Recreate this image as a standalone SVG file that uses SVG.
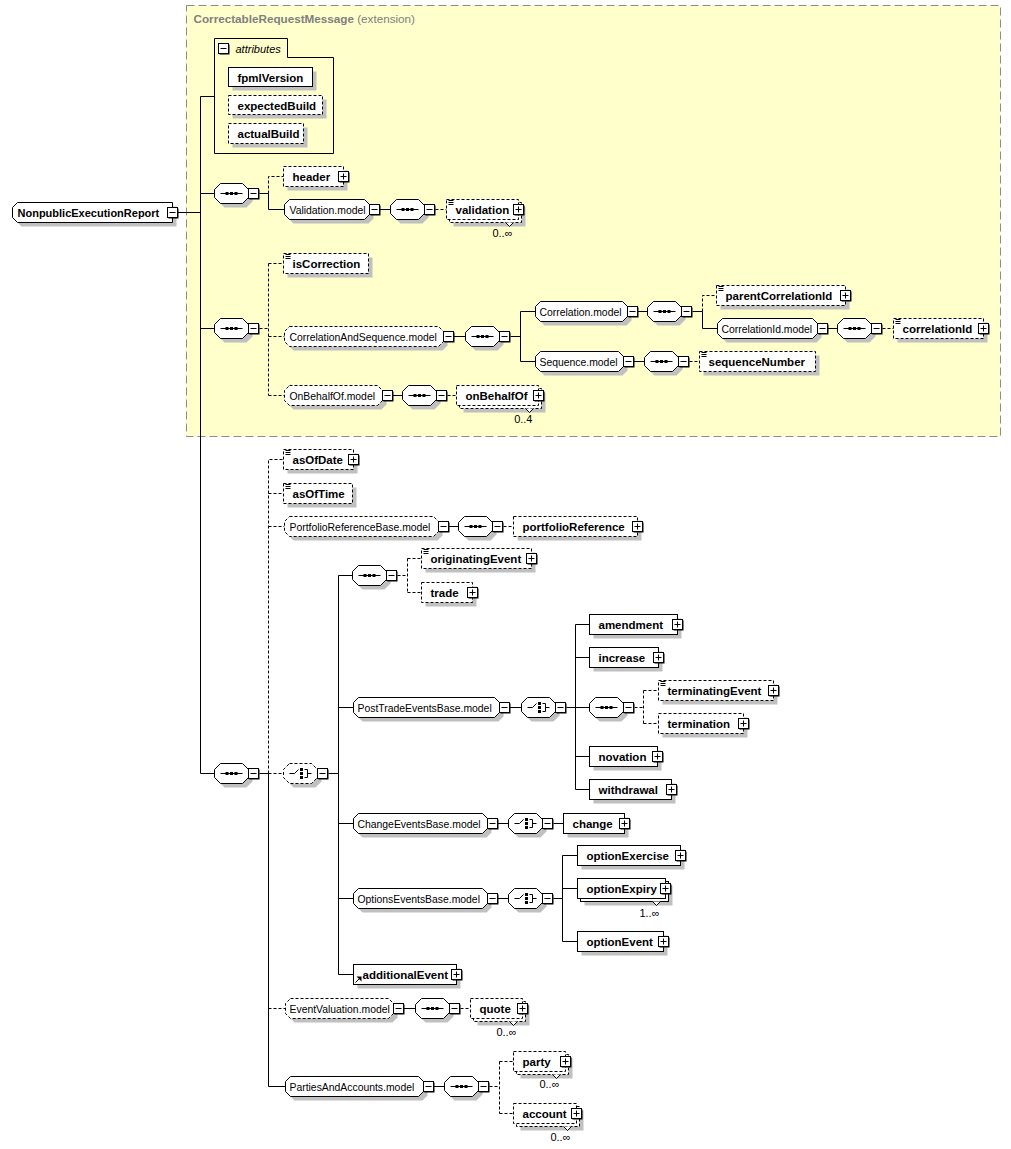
<svg xmlns="http://www.w3.org/2000/svg" xmlns:xlink="http://www.w3.org/1999/xlink" width="1011" height="1149" viewBox="0 0 1011 1149">
<style>
.sh{fill:#c0c0c0;stroke:none}
.b{fill:#fff;stroke:#000;stroke-width:1}
.d{stroke-dasharray:3,2}
.l{fill:none;stroke:#000;stroke-width:1}
.t{font-family:"Liberation Sans",Arial,sans-serif;font-weight:bold;font-size:11.5px;fill:#000}
.r{font-size:11px}
.m{font-family:"Liberation Sans",Arial,sans-serif;font-size:10.4px;fill:#000}
.c{font-family:"Liberation Sans",Arial,sans-serif;font-size:11px;fill:#000}
.g{font-family:"Liberation Sans",Arial,sans-serif;font-size:11.7px;fill:#808080}
</style>
<defs>
<g id="mi"><rect x="1" y="1" width="10" height="10" fill="#000"/><rect x="0" y="0" width="10" height="10" class="b"/><path d="M2 5H8" class="l"/></g>
<g id="pl"><rect x="1" y="1" width="10" height="10" fill="#000"/><rect x="0" y="0" width="10" height="10" class="b"/><path d="M2 5H8M5 2V8" class="l"/></g>
<path id="ic" d="M2 1H7M2 3H7M2 5H7" class="l"/>
<g id="sq">
<path class="sh" d="M10 -6H32L38 0V8L32 14H10L4 8V0Z"/>
<path class="b" d="M6 -10H28L34 -4V4L28 10H6L0 4V-4Z"/>
<path class="l" d="M6 0H28"/>
<path d="M11 -1.5h3v3h-3zM15.5 -1.5h3v3h-3zM20 -1.5h3v3h-3z" fill="#000"/>
<use xlink:href="#mi" href="#mi" x="34" y="-5"/>
</g>
<g id="ch">
<path class="sh" d="M10 -6H32L38 0V8L32 14H10L4 8V0Z"/>
<path class="b" d="M6 -10H28L34 -4V4L28 10H6L0 4V-4Z"/>
<path class="l" d="M6 0H11L15 -4M21 -4H24V4H21M24 0H28"/>
<path d="M16.5 -5.5h3v3h-3zM16.5 -1.5h3v3h-3zM16.5 2.5h3v3h-3z" fill="#000"/>
<use xlink:href="#mi" href="#mi" x="34" y="-5"/>
</g>
<g id="cho">
<path class="sh" d="M10 -6H32L38 0V8L32 14H10L4 8V0Z"/>
<path class="b d" d="M6 -10H28L34 -4V4L28 10H6L0 4V-4Z"/>
<path class="l" d="M6 0H11L15 -4M21 -4H24V4H21M24 0H28"/>
<path d="M16.5 -5.5h3v3h-3zM16.5 -1.5h3v3h-3zM16.5 2.5h3v3h-3z" fill="#000"/>
<use xlink:href="#mi" href="#mi" x="34" y="-5"/>
</g>
</defs>
<rect x="0" y="0" width="1011" height="1149" fill="#fff"/>
<g transform="translate(0.5,0.5)">

<g id="ext">
<rect x="186" y="5" width="814" height="431" fill="#ffffcc" stroke="#8c8c8c" stroke-dasharray="8,4"/>
<text x="193" y="22" class="g"><tspan font-weight="bold">CorrectableRequestMessage</tspan> (extension)</text>
</g>

<g id="attributes">
<path class="l" d="M214 38H287V57H333V153H214Z"/>
<use xlink:href="#mi" href="#mi" x="218" y="43"/>
<text x="235" y="52" class="c" font-style="italic">attributes</text>
<g id="fpmlVersion"><rect class="sh" x="232" y="71" width="84" height="19"/><rect class="b" x="228" y="67" width="84" height="19"/><text class="t" x="237" y="81">fpmlVersion</text></g>
<g id="expectedBuild"><rect class="sh" x="232" y="99" width="94" height="19"/><rect class="b d" x="228" y="95" width="94" height="19"/><text class="t" x="237" y="109">expectedBuild</text></g>
<g id="actualBuild"><rect class="sh" x="232" y="127" width="75" height="20"/><rect class="b d" x="228" y="123" width="75" height="20"/><text class="t" x="237" y="137">actualBuild</text></g>
</g>

<g id="connectors">
<path class="l" d="M177 212H200M200 96V773M200 96H214M200 193H214M200 328H214M200 773H214"/>
<path class="l" d="M259 193H268V209H284M379 209H390"/>
<path class="l d" d="M268 193V176H283M435 209H446"/>
<path class="l d" d="M259 328H268M268 263V395M268 263H283M268 336H284M268 395H284M447 395H456"/>
<path class="l" d="M453 336H465M510 336H520M520 311V361M520 311H535M520 361H535M392 395H402"/>
<path class="l" d="M637 311H647M692 311H702V328H717M827 328H837M633 361H644"/>
<path class="l d" d="M702 311V295H716M882 328H893M689 361H699"/>
<path class="l" d="M259 773H268M268 773V1086H285"/>
<path class="l d" d="M268 773H283M268 773V459H283M268 493H283M268 526H284M268 1008H285"/>
<path class="l" d="M448 526H458"/>
<path class="l d" d="M503 526H513"/>
<path class="l" d="M328 773H338M338 575V974M338 575H352M338 707H353M338 823H353M338 898H353M338 974H353"/>
<path class="l d" d="M397 575H407M407 558V592M407 558H421M407 592H421"/>
<path class="l" d="M509 707H521M566 707H575M575 624V789M575 624H589M575 657H589M575 707H589M575 756H589M575 789H589"/>
<path class="l d" d="M634 707H643M643 690V723M643 690H658M643 723H658"/>
<path class="l" d="M497 823H508M553 823H563M497 898H508M553 898H562M562 855V941M562 855H577M562 888H577M562 941H577"/>
<path class="l" d="M403 1008H415M433 1086H444"/>
<path class="l d" d="M460 1008H470M489 1086H499M499 1061V1113M499 1061H513M499 1113H513"/>
</g>

<g id="NonpublicExecutionReport">
<path class="sh" transform="translate(4,4)" d="M17 202H172V222H17L12 217V207Z"/>
<path class="b" d="M17 202H172V222H17L12 217V207Z"/>
<text class="t r" x="17" y="216">NonpublicExecutionReport</text>
<use xlink:href="#mi" href="#mi" x="167" y="207"/>
</g>

<g id="seq1"><use xlink:href="#sq" href="#sq" x="214" y="193"/></g>
<g id="seq2"><use xlink:href="#sq" href="#sq" x="390" y="209"/></g>
<g id="seq3"><use xlink:href="#sq" href="#sq" x="214" y="328"/></g>
<g id="seq4"><use xlink:href="#sq" href="#sq" x="465" y="336"/></g>
<g id="seq5"><use xlink:href="#sq" href="#sq" x="402" y="395"/></g>
<g id="seq6"><use xlink:href="#sq" href="#sq" x="647" y="311"/></g>
<g id="seq7"><use xlink:href="#sq" href="#sq" x="837" y="328"/></g>
<g id="seq8"><use xlink:href="#sq" href="#sq" x="644" y="361"/></g>
<g id="seq9"><use xlink:href="#sq" href="#sq" x="214" y="773"/></g>
<g id="seq10"><use xlink:href="#sq" href="#sq" x="458" y="526"/></g>
<g id="seq11"><use xlink:href="#sq" href="#sq" x="352" y="575"/></g>
<g id="seq12"><use xlink:href="#sq" href="#sq" x="589" y="707"/></g>
<g id="seq13"><use xlink:href="#sq" href="#sq" x="415" y="1008"/></g>
<g id="seq14"><use xlink:href="#sq" href="#sq" x="444" y="1086"/></g>
<g id="choice1"><use xlink:href="#cho" href="#cho" x="283" y="773"/></g>
<g id="choice2"><use xlink:href="#ch" href="#ch" x="521" y="707"/></g>
<g id="choice3"><use xlink:href="#ch" href="#ch" x="508" y="823"/></g>
<g id="choice4"><use xlink:href="#ch" href="#ch" x="508" y="898"/></g>

<g id="Validation.model"><path class="sh" transform="translate(4,4)" d="M289 199H364L369 204V214L364 219H289L284 214V204Z"/><path class="b" d="M289 199H364L369 204V214L364 219H289L284 214V204Z"/><text class="m" x="289" y="213">Validation.model</text><use xlink:href="#mi" href="#mi" x="369" y="204"/></g>
<g id="CorrelationAndSequence.model"><path class="sh" transform="translate(4,4)" d="M289 326H438L443 331V341L438 346H289L284 341V331Z"/><path class="b d" d="M289 326H438L443 331V341L438 346H289L284 341V331Z"/><text class="m" x="289" y="340">CorrelationAndSequence.model</text><use xlink:href="#mi" href="#mi" x="443" y="331"/></g>
<g id="OnBehalfOf.model"><path class="sh" transform="translate(4,4)" d="M289 385H377L382 390V400L377 405H289L284 400V390Z"/><path class="b d" d="M289 385H377L382 390V400L377 405H289L284 400V390Z"/><text class="m" x="289" y="399">OnBehalfOf.model</text><use xlink:href="#mi" href="#mi" x="382" y="390"/></g>
<g id="Correlation.model"><path class="sh" transform="translate(4,4)" d="M540 301H622L627 306V316L622 321H540L535 316V306Z"/><path class="b" d="M540 301H622L627 306V316L622 321H540L535 316V306Z"/><text class="m" x="539" y="315">Correlation.model</text><use xlink:href="#mi" href="#mi" x="627" y="306"/></g>
<g id="CorrelationId.model"><path class="sh" transform="translate(4,4)" d="M722 318H812L817 323V333L812 338H722L717 333V323Z"/><path class="b" d="M722 318H812L817 323V333L812 338H722L717 333V323Z"/><text class="m" x="721" y="332">CorrelationId.model</text><use xlink:href="#mi" href="#mi" x="817" y="323"/></g>
<g id="Sequence.model"><path class="sh" transform="translate(4,4)" d="M540 351H618L623 356V366L618 371H540L535 366V356Z"/><path class="b" d="M540 351H618L623 356V366L618 371H540L535 366V356Z"/><text class="m" x="539" y="365">Sequence.model</text><use xlink:href="#mi" href="#mi" x="623" y="356"/></g>
<g id="PortfolioReferenceBase.model"><path class="sh" transform="translate(4,4)" d="M289 516H433L438 521V531L433 536H289L284 531V521Z"/><path class="b d" d="M289 516H433L438 521V531L433 536H289L284 531V521Z"/><text class="m" x="289" y="530">PortfolioReferenceBase.model</text><use xlink:href="#mi" href="#mi" x="438" y="521"/></g>
<g id="PostTradeEventsBase.model"><path class="sh" transform="translate(4,4)" d="M358 697H494L499 702V712L494 717H358L353 712V702Z"/><path class="b" d="M358 697H494L499 702V712L494 717H358L353 712V702Z"/><text class="m" x="357" y="711">PostTradeEventsBase.model</text><use xlink:href="#mi" href="#mi" x="499" y="702"/></g>
<g id="ChangeEventsBase.model"><path class="sh" transform="translate(4,4)" d="M358 813H482L487 818V828L482 833H358L353 828V818Z"/><path class="b" d="M358 813H482L487 818V828L482 833H358L353 828V818Z"/><text class="m" x="357" y="827">ChangeEventsBase.model</text><use xlink:href="#mi" href="#mi" x="487" y="818"/></g>
<g id="OptionsEventsBase.model"><path class="sh" transform="translate(4,4)" d="M358 888H482L487 893V903L482 908H358L353 903V893Z"/><path class="b" d="M358 888H482L487 893V903L482 908H358L353 903V893Z"/><text class="m" x="357" y="902">OptionsEventsBase.model</text><use xlink:href="#mi" href="#mi" x="487" y="893"/></g>
<g id="EventValuation.model"><path class="sh" transform="translate(4,4)" d="M290 998H388L393 1003V1013L388 1018H290L285 1013V1003Z"/><path class="b d" d="M290 998H388L393 1003V1013L388 1018H290L285 1013V1003Z"/><text class="m" x="289" y="1012">EventValuation.model</text><use xlink:href="#mi" href="#mi" x="393" y="1003"/></g>
<g id="PartiesAndAccounts.model"><path class="sh" transform="translate(4,4)" d="M290 1076H418L423 1081V1091L418 1096H290L285 1091V1081Z"/><path class="b" d="M290 1076H418L423 1081V1091L418 1096H290L285 1091V1081Z"/><text class="m" x="289" y="1090">PartiesAndAccounts.model</text><use xlink:href="#mi" href="#mi" x="423" y="1081"/></g>

<g id="header"><rect class="sh" x="287" y="170" width="60" height="20"/><rect class="b d" x="283" y="166" width="60" height="20"/><text class="t" x="292" y="180">header</text><use xlink:href="#pl" href="#pl" x="338" y="171"/></g>
<g id="validation"><rect class="sh" x="453" y="206" width="72" height="20"/><rect class="b d" x="449" y="202" width="72" height="20"/><rect class="b d" x="446" y="199" width="72" height="20"/><use xlink:href="#ic" href="#ic" x="446" y="199"/><text class="t" x="455" y="213">validation</text><use xlink:href="#pl" href="#pl" x="513" y="204"/><path class="b" d="M505 222L509 226L513 222"/><text class="c" x="512" y="236" text-anchor="end">0..∞</text></g>
<g id="isCorrection"><rect class="sh" x="287" y="257" width="85" height="20"/><rect class="b d" x="283" y="253" width="85" height="20"/><use xlink:href="#ic" href="#ic" x="283" y="253"/><text class="t" x="292" y="267">isCorrection</text></g>
<g id="parentCorrelationId"><rect class="sh" x="720" y="289" width="129" height="20"/><rect class="b d" x="716" y="285" width="129" height="20"/><use xlink:href="#ic" href="#ic" x="716" y="285"/><text class="t" x="725" y="299">parentCorrelationId</text><use xlink:href="#pl" href="#pl" x="840" y="290"/></g>
<g id="correlationId"><rect class="sh" x="897" y="322" width="90" height="20"/><rect class="b d" x="893" y="318" width="90" height="20"/><use xlink:href="#ic" href="#ic" x="893" y="318"/><text class="t" x="902" y="332">correlationId</text><use xlink:href="#pl" href="#pl" x="978" y="323"/></g>
<g id="sequenceNumber"><rect class="sh" x="703" y="355" width="116" height="20"/><rect class="b d" x="699" y="351" width="116" height="20"/><use xlink:href="#ic" href="#ic" x="699" y="351"/><text class="t" x="708" y="365">sequenceNumber</text></g>
<g id="onBehalfOf"><rect class="sh" x="463" y="392" width="82" height="20"/><rect class="b d" x="459" y="388" width="82" height="20"/><rect class="b d" x="456" y="385" width="82" height="20"/><text class="t" x="465" y="399">onBehalfOf</text><use xlink:href="#pl" href="#pl" x="533" y="390"/><path class="b" d="M525 408L529 412L533 408"/><text class="c" x="532" y="422" text-anchor="end">0..4</text></g>
<g id="asOfDate"><rect class="sh" x="287" y="453" width="70" height="20"/><rect class="b d" x="283" y="449" width="70" height="20"/><use xlink:href="#ic" href="#ic" x="283" y="449"/><text class="t" x="292" y="463">asOfDate</text><use xlink:href="#pl" href="#pl" x="348" y="454"/></g>
<g id="asOfTime"><rect class="sh" x="287" y="487" width="69" height="20"/><rect class="b d" x="283" y="483" width="69" height="20"/><use xlink:href="#ic" href="#ic" x="283" y="483"/><text class="t" x="292" y="497">asOfTime</text></g>
<g id="portfolioReference"><rect class="sh" x="517" y="520" width="124" height="20"/><rect class="b d" x="513" y="516" width="124" height="20"/><text class="t" x="522" y="530">portfolioReference</text><use xlink:href="#pl" href="#pl" x="632" y="521"/></g>
<g id="originatingEvent"><rect class="sh" x="425" y="552" width="110" height="20"/><rect class="b d" x="421" y="548" width="110" height="20"/><use xlink:href="#ic" href="#ic" x="421" y="548"/><text class="t" x="430" y="562">originatingEvent</text><use xlink:href="#pl" href="#pl" x="526" y="553"/></g>
<g id="trade"><rect class="sh" x="425" y="586" width="51" height="20"/><rect class="b d" x="421" y="582" width="51" height="20"/><text class="t" x="430" y="596">trade</text><use xlink:href="#pl" href="#pl" x="467" y="587"/></g>
<g id="amendment"><rect class="sh" x="593" y="618" width="88" height="20"/><rect class="b" x="589" y="614" width="88" height="20"/><text class="t" x="598" y="628">amendment</text><use xlink:href="#pl" href="#pl" x="672" y="619"/></g>
<g id="increase"><rect class="sh" x="593" y="651" width="69" height="20"/><rect class="b" x="589" y="647" width="69" height="20"/><text class="t" x="598" y="661">increase</text><use xlink:href="#pl" href="#pl" x="653" y="652"/></g>
<g id="terminatingEvent"><rect class="sh" x="662" y="684" width="115" height="20"/><rect class="b d" x="658" y="680" width="115" height="20"/><use xlink:href="#ic" href="#ic" x="658" y="680"/><text class="t" x="667" y="694">terminatingEvent</text><use xlink:href="#pl" href="#pl" x="768" y="685"/></g>
<g id="termination"><rect class="sh" x="662" y="717" width="85" height="20"/><rect class="b d" x="658" y="713" width="85" height="20"/><text class="t" x="667" y="727">termination</text><use xlink:href="#pl" href="#pl" x="738" y="718"/></g>
<g id="novation"><rect class="sh" x="593" y="750" width="68" height="20"/><rect class="b" x="589" y="746" width="68" height="20"/><text class="t" x="598" y="760">novation</text><use xlink:href="#pl" href="#pl" x="652" y="751"/></g>
<g id="withdrawal"><rect class="sh" x="593" y="783" width="82" height="20"/><rect class="b" x="589" y="779" width="82" height="20"/><text class="t" x="598" y="793">withdrawal</text><use xlink:href="#pl" href="#pl" x="666" y="784"/></g>
<g id="change"><rect class="sh" x="567" y="817" width="61" height="20"/><rect class="b" x="563" y="813" width="61" height="20"/><text class="t" x="572" y="827">change</text><use xlink:href="#pl" href="#pl" x="619" y="818"/></g>
<g id="optionExercise"><rect class="sh" x="581" y="849" width="103" height="20"/><rect class="b" x="577" y="845" width="103" height="20"/><text class="t" x="586" y="859">optionExercise</text><use xlink:href="#pl" href="#pl" x="675" y="850"/></g>
<g id="optionExpiry"><rect class="sh" x="584" y="885" width="88" height="20"/><rect class="b" x="580" y="881" width="88" height="20"/><rect class="b" x="577" y="878" width="88" height="20"/><text class="t" x="586" y="892">optionExpiry</text><use xlink:href="#pl" href="#pl" x="660" y="883"/><path class="b" d="M652 901L656 905L660 901"/><text class="c" x="659" y="916" text-anchor="end">1..∞</text></g>
<g id="optionEvent"><rect class="sh" x="581" y="935" width="86" height="20"/><rect class="b" x="577" y="931" width="86" height="20"/><text class="t" x="586" y="945">optionEvent</text><use xlink:href="#pl" href="#pl" x="658" y="936"/></g>
<g id="additionalEvent"><rect class="sh" x="357" y="968" width="103" height="20"/><rect class="b" x="353" y="964" width="103" height="20"/><path class="l" d="M355 982L359 978"/><path d="M356 976H361V981Z" fill="#000"/><text class="t" x="362" y="978">additionalEvent</text><use xlink:href="#pl" href="#pl" x="451" y="969"/></g>
<g id="quote"><rect class="sh" x="477" y="1005" width="52" height="20"/><rect class="b d" x="473" y="1001" width="52" height="20"/><rect class="b d" x="470" y="998" width="52" height="20"/><text class="t" x="479" y="1012">quote</text><use xlink:href="#pl" href="#pl" x="517" y="1003"/><path class="b" d="M509 1021L513 1025L517 1021"/><text class="c" x="516" y="1035" text-anchor="end">0..∞</text></g>
<g id="party"><rect class="sh" x="520" y="1058" width="52" height="20"/><rect class="b d" x="516" y="1054" width="52" height="20"/><rect class="b d" x="513" y="1051" width="52" height="20"/><text class="t" x="522" y="1065">party</text><use xlink:href="#pl" href="#pl" x="560" y="1056"/><path class="b" d="M552 1074L556 1078L560 1074"/><text class="c" x="559" y="1087" text-anchor="end">0..∞</text></g>
<g id="account"><rect class="sh" x="520" y="1110" width="63" height="20"/><rect class="b d" x="516" y="1106" width="63" height="20"/><rect class="b d" x="513" y="1103" width="63" height="20"/><text class="t" x="522" y="1117">account</text><use xlink:href="#pl" href="#pl" x="571" y="1108"/><path class="b" d="M563 1126L567 1130L571 1126"/><text class="c" x="570" y="1140" text-anchor="end">0..∞</text></g>
</g>
</svg>
